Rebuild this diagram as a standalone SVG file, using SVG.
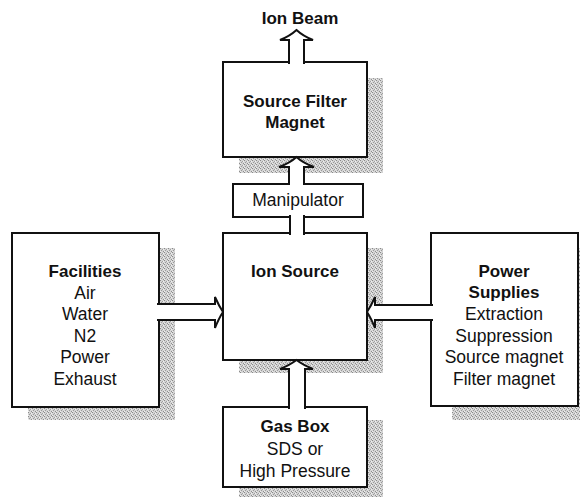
<svg xmlns="http://www.w3.org/2000/svg" width="580" height="497" viewBox="0 0 580 497">
<defs>
<pattern id="stip" width="4" height="4" patternUnits="userSpaceOnUse">
<rect width="4" height="4" fill="#d4d4d4"/>
<rect x="0" y="0" width="1" height="1" fill="#8a8a8a"/>
<rect x="2" y="1" width="1" height="1" fill="#a0a0a0"/>
<rect x="1" y="2" width="1" height="1" fill="#9a9a9a"/>
<rect x="3" y="3" width="1" height="1" fill="#8e8e8e"/>
<rect x="3" y="1" width="1" height="1" fill="#f0f0f0"/>
<rect x="0" y="3" width="1" height="1" fill="#eeeeee"/>
</pattern>
</defs>
<style>
.box{fill:#fff;stroke:#111;stroke-width:2}
.sh{fill:url(#stip)}
.t{font-family:"Liberation Sans",Arial,sans-serif;font-size:17.5px;fill:#111;text-anchor:middle}
.b{font-weight:bold;font-size:17px}
.arr{fill:#fff;stroke:#111;stroke-width:2;stroke-linejoin:miter}
</style>
<rect width="580" height="497" fill="#fff"/>

<g id="source-filter-magnet">
<rect class="sh" x="239" y="78" width="144" height="95"/>
<rect class="box" x="223" y="62" width="144" height="95"/>
<text class="t b" x="295" y="107">Source Filter</text>
<text class="t b" x="295" y="128">Magnet</text>
</g>

<g id="manipulator">
<rect class="box" x="233" y="184" width="130" height="33"/>
<text class="t" x="298" y="206">Manipulator</text>
</g>

<g id="facilities">
<rect class="sh" x="28" y="248" width="147" height="172"/>
<rect class="box" x="12" y="233" width="147" height="174"/>
<text class="t b" x="85" y="277">Facilities</text>
<text class="t" x="85" y="299">Air</text>
<text class="t" x="85" y="320">Water</text>
<text class="t" x="85" y="342">N2</text>
<text class="t" x="85" y="363">Power</text>
<text class="t" x="85" y="385">Exhaust</text>
</g>

<g id="ion-source">
<rect class="sh" x="239" y="248" width="144" height="125"/>
<rect class="box" x="223" y="233" width="144" height="127"/>
<text class="t b" x="295" y="277">Ion Source</text>
</g>

<g id="power-supplies">
<rect class="sh" x="452" y="248" width="140" height="172"/>
<rect class="box" x="431" y="233" width="147" height="173"/>
<text class="t b" x="504" y="277">Power</text>
<text class="t b" x="504" y="298">Supplies</text>
<text class="t" x="504" y="320">Extraction</text>
<text class="t" x="504" y="342">Suppression</text>
<text class="t" x="504" y="363">Source magnet</text>
<text class="t" x="504" y="385">Filter magnet</text>
</g>

<g id="gas-box">
<rect class="sh" x="239" y="420" width="144" height="80"/>
<rect class="box" x="223" y="407" width="144" height="80"/>
<text class="t b" x="295" y="432">Gas Box</text>
<text class="t" x="295" y="455">SDS or</text>
<text class="t" x="295" y="477">High Pressure</text>
</g>

<g id="connectors">
<path class="arr" d="M289,64 L289,40 L280,40 Q290,36 296.5,30 Q303,36 313,40 L304,40 L304,64"/>
<path class="arr" d="M289,185 L289,167 L279,167 Q290,163 296.5,157 Q303,163 314,167 L304,167 L304,185"/>
<path class="arr" d="M290,215 L290,235 M304,235 L304,215"/>
<rect x="291" y="215" width="12" height="20" fill="#fff"/>
<path class="arr" d="M157,304 L215,304 L215,297 Q219,306 223,312 Q219,318 215,328 L215,320 L157,320"/>
<path class="arr" d="M433,305 L375,305 L375,297 Q371,306 367,312 Q371,318 375,328 L375,320 L433,320"/>
<path class="arr" d="M289,409 L289,369 L280,369 Q290,365 296.5,360 Q303,365 313,369 L305,369 L305,409"/>
</g>

<text class="t b" x="300" y="24">Ion Beam</text>
</svg>
